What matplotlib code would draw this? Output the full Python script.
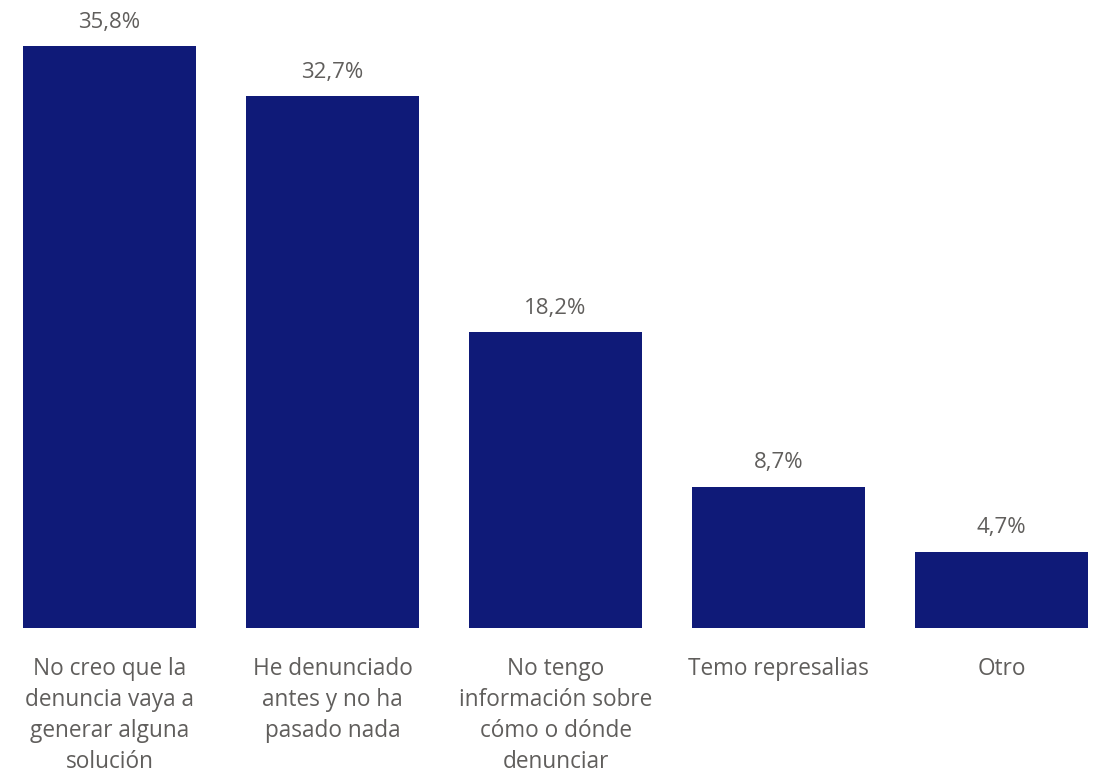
import matplotlib
matplotlib.use("Agg")
import matplotlib.pyplot as plt

categories = [
    "No creo que la\ndenuncia vaya a\ngenerar alguna\nsolución",
    "He denunciado\nantes y no ha\npasado nada",
    "No tengo\ninformación sobre\ncómo o dónde\ndenunciar",
    "Temo represalias",
    "Otro",
]
values = [35.8, 32.7, 18.2, 8.7, 4.7]
value_labels = ["35,8%", "32,7%", "18,2%", "8,7%", "4,7%"]

plt.rcParams['font.family'] = ['Open Sans', 'DejaVu Sans']
bar_color = "#0F1A78"
text_color = "#605E5C"

fig = plt.figure(figsize=(10.99, 7.74), dpi=100)
ax = fig.add_axes([0, (774 - 628) / 774, 1, 628 / 774])
x = list(range(len(values)))
bars = ax.bar(x, values, width=173 / 223, color=bar_color)
ax.set_xlim(-109.5 / 223, (1099 - 109.5) / 223)
ax.set_ylim(0, 628 / 16.26)
for xi, v, lab in zip(x, values, value_labels):
    ax.annotate(lab, (xi, v), xytext=(0, 9.5), textcoords="offset points",
                ha="center", va="bottom", fontsize=16, color=text_color)

for xi, cat in zip(x, categories):
    ax.annotate(cat, (xi, 0), xytext=(0, -21), textcoords="offset points",
                ha="center", va="top", fontsize=16.3, color=text_color,
                linespacing=1.38, annotation_clip=False)
ax.axis("off")
fig.savefig("out.png", dpi=100)
